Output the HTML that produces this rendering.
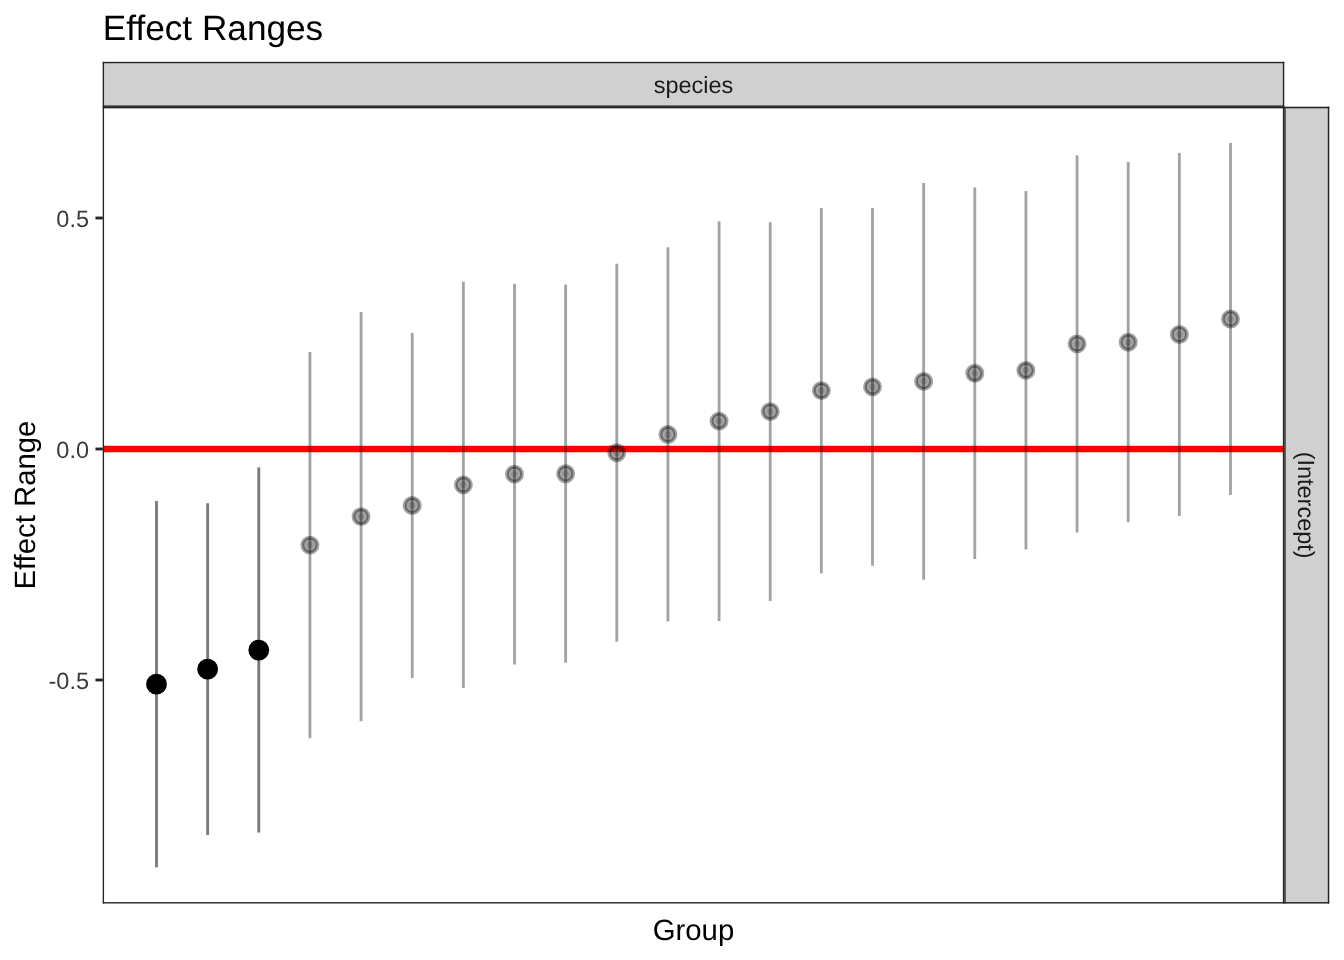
<!DOCTYPE html>
<html><head><meta charset="utf-8"><style>
html,body{margin:0;padding:0;background:#fff;}
svg{display:block;font-family:"Liberation Sans",sans-serif;text-rendering:geometricPrecision;will-change:transform;}
</style></head><body>
<svg width="1344" height="960" viewBox="0 0 1344 960">
<defs><clipPath id="pc"><rect x="102.8" y="106.7" width="1181.40" height="796.80"/></clipPath></defs>
<rect x="0" y="0" width="1344" height="960" fill="#fff"/>
<g clip-path="url(#pc)">
<line x1="102.8" x2="1284.2" y1="449" y2="449" stroke="#FF0000" stroke-width="6.26"/>
<circle cx="156.50" cy="684.15" r="2.37" fill="#BFBFBF" fill-opacity="0.3606" stroke="#BFBFBF" stroke-opacity="0.3606" stroke-width="1.89"/>
<circle cx="207.64" cy="669.15" r="2.37" fill="#BFBFBF" fill-opacity="0.3606" stroke="#BFBFBF" stroke-opacity="0.3606" stroke-width="1.89"/>
<circle cx="258.79" cy="650.10" r="2.37" fill="#BFBFBF" fill-opacity="0.3606" stroke="#BFBFBF" stroke-opacity="0.3606" stroke-width="1.89"/>
<circle cx="309.93" cy="545.10" r="2.37" fill="#BFBFBF" fill-opacity="0.3606" stroke="#BFBFBF" stroke-opacity="0.3606" stroke-width="1.89"/>
<circle cx="361.07" cy="516.60" r="2.37" fill="#BFBFBF" fill-opacity="0.3606" stroke="#BFBFBF" stroke-opacity="0.3606" stroke-width="1.89"/>
<circle cx="412.21" cy="505.45" r="2.37" fill="#BFBFBF" fill-opacity="0.3606" stroke="#BFBFBF" stroke-opacity="0.3606" stroke-width="1.89"/>
<circle cx="463.36" cy="484.85" r="2.37" fill="#BFBFBF" fill-opacity="0.3606" stroke="#BFBFBF" stroke-opacity="0.3606" stroke-width="1.89"/>
<circle cx="514.50" cy="474.10" r="2.37" fill="#BFBFBF" fill-opacity="0.3606" stroke="#BFBFBF" stroke-opacity="0.3606" stroke-width="1.89"/>
<circle cx="565.64" cy="473.70" r="2.37" fill="#BFBFBF" fill-opacity="0.3606" stroke="#BFBFBF" stroke-opacity="0.3606" stroke-width="1.89"/>
<circle cx="616.79" cy="452.75" r="2.37" fill="#BFBFBF" fill-opacity="0.3606" stroke="#BFBFBF" stroke-opacity="0.3606" stroke-width="1.89"/>
<circle cx="667.93" cy="434.45" r="2.37" fill="#BFBFBF" fill-opacity="0.3606" stroke="#BFBFBF" stroke-opacity="0.3606" stroke-width="1.89"/>
<circle cx="719.07" cy="421.10" r="2.37" fill="#BFBFBF" fill-opacity="0.3606" stroke="#BFBFBF" stroke-opacity="0.3606" stroke-width="1.89"/>
<circle cx="770.21" cy="411.60" r="2.37" fill="#BFBFBF" fill-opacity="0.3606" stroke="#BFBFBF" stroke-opacity="0.3606" stroke-width="1.89"/>
<circle cx="821.36" cy="390.60" r="2.37" fill="#BFBFBF" fill-opacity="0.3606" stroke="#BFBFBF" stroke-opacity="0.3606" stroke-width="1.89"/>
<circle cx="872.50" cy="386.85" r="2.37" fill="#BFBFBF" fill-opacity="0.3606" stroke="#BFBFBF" stroke-opacity="0.3606" stroke-width="1.89"/>
<circle cx="923.64" cy="381.35" r="2.37" fill="#BFBFBF" fill-opacity="0.3606" stroke="#BFBFBF" stroke-opacity="0.3606" stroke-width="1.89"/>
<circle cx="974.79" cy="373.30" r="2.37" fill="#BFBFBF" fill-opacity="0.3606" stroke="#BFBFBF" stroke-opacity="0.3606" stroke-width="1.89"/>
<circle cx="1025.93" cy="370.35" r="2.37" fill="#BFBFBF" fill-opacity="0.3606" stroke="#BFBFBF" stroke-opacity="0.3606" stroke-width="1.89"/>
<circle cx="1077.07" cy="343.85" r="2.37" fill="#BFBFBF" fill-opacity="0.3606" stroke="#BFBFBF" stroke-opacity="0.3606" stroke-width="1.89"/>
<circle cx="1128.21" cy="342.20" r="2.37" fill="#BFBFBF" fill-opacity="0.3606" stroke="#BFBFBF" stroke-opacity="0.3606" stroke-width="1.89"/>
<circle cx="1179.36" cy="334.45" r="2.37" fill="#BFBFBF" fill-opacity="0.3606" stroke="#BFBFBF" stroke-opacity="0.3606" stroke-width="1.89"/>
<circle cx="1230.50" cy="318.95" r="2.37" fill="#BFBFBF" fill-opacity="0.3606" stroke="#BFBFBF" stroke-opacity="0.3606" stroke-width="1.89"/>
<circle cx="156.50" cy="684.15" r="9.48" fill="#000" stroke="#000" stroke-width="1.89"/>
<circle cx="207.64" cy="669.15" r="9.48" fill="#000" stroke="#000" stroke-width="1.89"/>
<circle cx="258.79" cy="650.10" r="9.48" fill="#000" stroke="#000" stroke-width="1.89"/>
<line x1="156.50" x2="156.50" y1="501.1" y2="867.2" stroke="#000" stroke-opacity="0.3606" stroke-width="2.84"/>
<circle cx="156.50" cy="684.15" r="7.58" fill="#000" fill-opacity="0.3606" stroke="#000" stroke-opacity="0.3606" stroke-width="3.78"/>
<line x1="207.64" x2="207.64" y1="503.3" y2="835.0" stroke="#000" stroke-opacity="0.3606" stroke-width="2.84"/>
<circle cx="207.64" cy="669.15" r="7.58" fill="#000" fill-opacity="0.3606" stroke="#000" stroke-opacity="0.3606" stroke-width="3.78"/>
<line x1="258.79" x2="258.79" y1="467.6" y2="832.6" stroke="#000" stroke-opacity="0.3606" stroke-width="2.84"/>
<circle cx="258.79" cy="650.10" r="7.58" fill="#000" fill-opacity="0.3606" stroke="#000" stroke-opacity="0.3606" stroke-width="3.78"/>
<line x1="309.93" x2="309.93" y1="351.9" y2="738.3" stroke="#000" stroke-opacity="0.3606" stroke-width="2.84"/>
<circle cx="309.93" cy="545.10" r="7.58" fill="#000" fill-opacity="0.3606" stroke="#000" stroke-opacity="0.3606" stroke-width="3.78"/>
<line x1="361.07" x2="361.07" y1="312.0" y2="721.2" stroke="#000" stroke-opacity="0.3606" stroke-width="2.84"/>
<circle cx="361.07" cy="516.60" r="7.58" fill="#000" fill-opacity="0.3606" stroke="#000" stroke-opacity="0.3606" stroke-width="3.78"/>
<line x1="412.21" x2="412.21" y1="332.9" y2="678.0" stroke="#000" stroke-opacity="0.3606" stroke-width="2.84"/>
<circle cx="412.21" cy="505.45" r="7.58" fill="#000" fill-opacity="0.3606" stroke="#000" stroke-opacity="0.3606" stroke-width="3.78"/>
<line x1="463.36" x2="463.36" y1="281.7" y2="688.0" stroke="#000" stroke-opacity="0.3606" stroke-width="2.84"/>
<circle cx="463.36" cy="484.85" r="7.58" fill="#000" fill-opacity="0.3606" stroke="#000" stroke-opacity="0.3606" stroke-width="3.78"/>
<line x1="514.50" x2="514.50" y1="283.8" y2="664.4" stroke="#000" stroke-opacity="0.3606" stroke-width="2.84"/>
<circle cx="514.50" cy="474.10" r="7.58" fill="#000" fill-opacity="0.3606" stroke="#000" stroke-opacity="0.3606" stroke-width="3.78"/>
<line x1="565.64" x2="565.64" y1="284.6" y2="662.8" stroke="#000" stroke-opacity="0.3606" stroke-width="2.84"/>
<circle cx="565.64" cy="473.70" r="7.58" fill="#000" fill-opacity="0.3606" stroke="#000" stroke-opacity="0.3606" stroke-width="3.78"/>
<line x1="616.79" x2="616.79" y1="263.8" y2="641.7" stroke="#000" stroke-opacity="0.3606" stroke-width="2.84"/>
<circle cx="616.79" cy="452.75" r="7.58" fill="#000" fill-opacity="0.3606" stroke="#000" stroke-opacity="0.3606" stroke-width="3.78"/>
<line x1="667.93" x2="667.93" y1="247.3" y2="621.6" stroke="#000" stroke-opacity="0.3606" stroke-width="2.84"/>
<circle cx="667.93" cy="434.45" r="7.58" fill="#000" fill-opacity="0.3606" stroke="#000" stroke-opacity="0.3606" stroke-width="3.78"/>
<line x1="719.07" x2="719.07" y1="221.3" y2="620.9" stroke="#000" stroke-opacity="0.3606" stroke-width="2.84"/>
<circle cx="719.07" cy="421.10" r="7.58" fill="#000" fill-opacity="0.3606" stroke="#000" stroke-opacity="0.3606" stroke-width="3.78"/>
<line x1="770.21" x2="770.21" y1="222.2" y2="601.0" stroke="#000" stroke-opacity="0.3606" stroke-width="2.84"/>
<circle cx="770.21" cy="411.60" r="7.58" fill="#000" fill-opacity="0.3606" stroke="#000" stroke-opacity="0.3606" stroke-width="3.78"/>
<line x1="821.36" x2="821.36" y1="208.0" y2="573.2" stroke="#000" stroke-opacity="0.3606" stroke-width="2.84"/>
<circle cx="821.36" cy="390.60" r="7.58" fill="#000" fill-opacity="0.3606" stroke="#000" stroke-opacity="0.3606" stroke-width="3.78"/>
<line x1="872.50" x2="872.50" y1="208.0" y2="565.7" stroke="#000" stroke-opacity="0.3606" stroke-width="2.84"/>
<circle cx="872.50" cy="386.85" r="7.58" fill="#000" fill-opacity="0.3606" stroke="#000" stroke-opacity="0.3606" stroke-width="3.78"/>
<line x1="923.64" x2="923.64" y1="183.0" y2="579.7" stroke="#000" stroke-opacity="0.3606" stroke-width="2.84"/>
<circle cx="923.64" cy="381.35" r="7.58" fill="#000" fill-opacity="0.3606" stroke="#000" stroke-opacity="0.3606" stroke-width="3.78"/>
<line x1="974.79" x2="974.79" y1="187.6" y2="559.0" stroke="#000" stroke-opacity="0.3606" stroke-width="2.84"/>
<circle cx="974.79" cy="373.30" r="7.58" fill="#000" fill-opacity="0.3606" stroke="#000" stroke-opacity="0.3606" stroke-width="3.78"/>
<line x1="1025.93" x2="1025.93" y1="191.1" y2="549.6" stroke="#000" stroke-opacity="0.3606" stroke-width="2.84"/>
<circle cx="1025.93" cy="370.35" r="7.58" fill="#000" fill-opacity="0.3606" stroke="#000" stroke-opacity="0.3606" stroke-width="3.78"/>
<line x1="1077.07" x2="1077.07" y1="155.2" y2="532.5" stroke="#000" stroke-opacity="0.3606" stroke-width="2.84"/>
<circle cx="1077.07" cy="343.85" r="7.58" fill="#000" fill-opacity="0.3606" stroke="#000" stroke-opacity="0.3606" stroke-width="3.78"/>
<line x1="1128.21" x2="1128.21" y1="162.1" y2="522.3" stroke="#000" stroke-opacity="0.3606" stroke-width="2.84"/>
<circle cx="1128.21" cy="342.20" r="7.58" fill="#000" fill-opacity="0.3606" stroke="#000" stroke-opacity="0.3606" stroke-width="3.78"/>
<line x1="1179.36" x2="1179.36" y1="153.0" y2="515.9" stroke="#000" stroke-opacity="0.3606" stroke-width="2.84"/>
<circle cx="1179.36" cy="334.45" r="7.58" fill="#000" fill-opacity="0.3606" stroke="#000" stroke-opacity="0.3606" stroke-width="3.78"/>
<line x1="1230.50" x2="1230.50" y1="142.9" y2="495.0" stroke="#000" stroke-opacity="0.3606" stroke-width="2.84"/>
<circle cx="1230.50" cy="318.95" r="7.58" fill="#000" fill-opacity="0.3606" stroke="#000" stroke-opacity="0.3606" stroke-width="3.78"/>
<line x1="156.50" x2="156.50" y1="501.1" y2="867.2" stroke="#000" stroke-opacity="0.2500" stroke-width="2.84"/>
<circle cx="156.50" cy="684.15" r="7.58" fill="#000" fill-opacity="0.2500" stroke="#000" stroke-opacity="0.2500" stroke-width="3.78"/>
<line x1="207.64" x2="207.64" y1="503.3" y2="835.0" stroke="#000" stroke-opacity="0.2500" stroke-width="2.84"/>
<circle cx="207.64" cy="669.15" r="7.58" fill="#000" fill-opacity="0.2500" stroke="#000" stroke-opacity="0.2500" stroke-width="3.78"/>
<line x1="258.79" x2="258.79" y1="467.6" y2="832.6" stroke="#000" stroke-opacity="0.2500" stroke-width="2.84"/>
<circle cx="258.79" cy="650.10" r="7.58" fill="#000" fill-opacity="0.2500" stroke="#000" stroke-opacity="0.2500" stroke-width="3.78"/>
</g>
<rect x="102.80" y="61.90" width="1181.40" height="44.80" fill="#D0D0D0"/>
<rect x="102.75" y="61.85" width="1181.50" height="1.40" fill="#242424"/>
<rect x="102.70" y="61.85" width="1.35" height="44.95" fill="#242424"/>
<rect x="1282.85" y="61.85" width="1.40" height="44.95" fill="#242424"/>
<rect x="102.75" y="105.45" width="1181.50" height="1.40" fill="#242424"/>
<rect x="102.75" y="106.75" width="1181.50" height="1.60" fill="#242424"/>
<rect x="102.70" y="106.70" width="1.35" height="796.80" fill="#242424"/>
<rect x="1282.85" y="106.70" width="1.40" height="796.80" fill="#242424"/>
<rect x="102.75" y="902.10" width="1181.50" height="1.40" fill="#242424"/>
<rect x="1284.20" y="106.70" width="45.00" height="796.80" fill="#D0D0D0"/>
<rect x="1284.20" y="106.75" width="45.05" height="1.55" fill="#242424"/>
<rect x="1284.25" y="106.70" width="1.40" height="796.80" fill="#242424"/>
<rect x="1327.80" y="106.70" width="1.45" height="796.80" fill="#242424"/>
<rect x="1284.20" y="902.10" width="45.05" height="1.40" fill="#242424"/>
<line x1="95.47" x2="102.8" y1="218.0" y2="218.0" stroke="#242424" stroke-width="2.84"/>
<text x="88.97" y="227.10" font-size="23.47" fill="#3A3A3A" text-anchor="end">0.5</text>
<line x1="95.47" x2="102.8" y1="449.0" y2="449.0" stroke="#242424" stroke-width="2.84"/>
<text x="88.97" y="458.10" font-size="23.47" fill="#3A3A3A" text-anchor="end">0.0</text>
<line x1="95.47" x2="102.8" y1="680.0" y2="680.0" stroke="#242424" stroke-width="2.84"/>
<text x="88.97" y="689.10" font-size="23.47" fill="#3A3A3A" text-anchor="end">-0.5</text>
<text x="102.8" y="39.8" font-size="35.2" fill="#000">Effect Ranges</text>
<text x="693.50" y="92.8" font-size="23.47" fill="#1A1A1A" text-anchor="middle">species</text>
<text x="693.50" y="939.8" font-size="29.33" fill="#000" text-anchor="middle">Group</text>
<text transform="translate(35.1 505.10) rotate(-90)" font-size="29.33" fill="#000" text-anchor="middle">Effect Range</text>
<text transform="translate(1297.5 505.10) rotate(90)" font-size="23.47" fill="#1A1A1A" text-anchor="middle">(Intercept)</text>
</svg>
</body></html>
